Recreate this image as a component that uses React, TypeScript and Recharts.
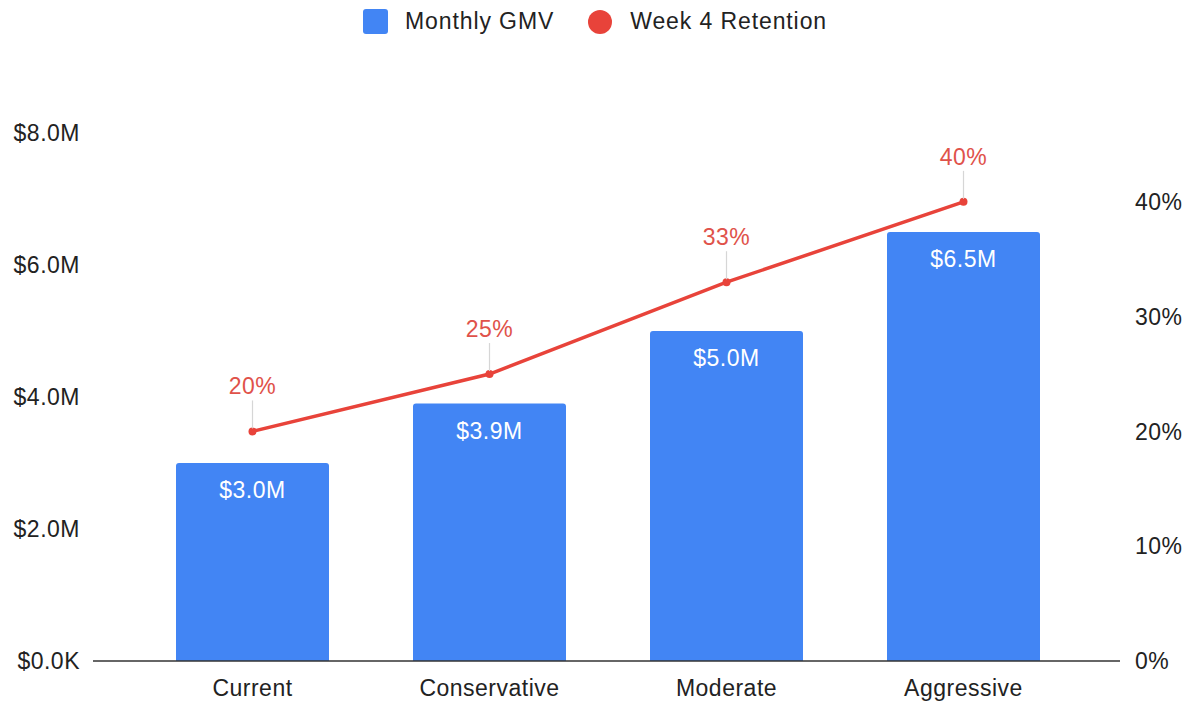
import React from "react";
import {
  ComposedChart,
  Bar,
  Line,
  XAxis,
  YAxis,
  LabelList
} from "recharts";

const categories = ["Current", "Conservative", "Moderate", "Aggressive"];
const monthlyGmv = [3000000, 3900000, 5000000, 6500000];
const week4Retention = [0.2, 0.25, 0.33, 0.4];
const gmvTicks = [0, 2000000, 4000000, 6000000, 8000000];
const retentionTicks = [0, 0.1, 0.2, 0.3, 0.4];

const BLUE = "#4285F4";
const RED = "#E8433A";
const LABEL_RED = "#E0524A";
const TEXT = "#222";

const data = categories.map((name, i) => ({
  name,
  gmv: monthlyGmv[i],
  retention: week4Retention[i]
}));

const money = (v: number) =>
  v === 0 ? "$0.0K" : `$${(v / 1000000).toFixed(1)}M`;
const pct = (v: number) => `${Math.round(v * 100)}%`;

const BarLabel = (props: any) => {
  const { x, y, width, value } = props;
  return (
    <text
      x={x + width / 2}
      y={y + 35}
      textAnchor="middle"
      fill="#fff"
      fontSize={23}
    >
      {money(value)}
    </text>
  );
};

const LineLabel = (props: any) => {
  const { x, y, value } = props;
  return (
    <g>
      <line x1={x} x2={x} y1={y - 31} y2={y - 3} stroke="#d6d6d6" strokeWidth={1.2} />
      <text x={x} y={y - 37} textAnchor="middle" fill={LABEL_RED} fontSize={23}>
        {pct(value)}
      </text>
    </g>
  );
};

function LegendBar() {
  return (
    <div
      style={{
        position: "absolute",
        top: 0,
        left: 0,
        width: 1186,
        height: 43,
        paddingLeft: 4,
        boxSizing: "border-box",
        display: "flex",
        justifyContent: "center",
        alignItems: "center",
        fontSize: 23,
        letterSpacing: 0.9,
        color: TEXT
      }}
    >
      <span style={{ width: 25, height: 25, background: BLUE, borderRadius: 3, marginRight: 17 }} />
      <span style={{ marginRight: 34 }}>Monthly GMV</span>
      <span style={{ width: 24, height: 24, background: RED, borderRadius: 12, marginRight: 18 }} />
      <span>Week 4 Retention</span>
    </div>
  );
}

export default function App() {
  return (
    <div
      style={{
        position: "absolute",
        left: 0,
        top: 0,
        width: 1186,
        height: 703,
        background: "#fff",
        fontFamily: "'Liberation Sans', Arial, sans-serif",
        letterSpacing: 0.5
      }}
    >
      <LegendBar />
      <ComposedChart
        width={1186}
        height={703}
        data={data}
        margin={{ top: 133, right: 6, bottom: 2, left: 13 }}
      >
        <XAxis
          dataKey="name"
          padding={{ left: 41, right: 38 }}
          height={40}
          tickSize={0}
          tickMargin={19}
          tickLine={false}
          axisLine={{ stroke: "#333", strokeWidth: 1.5 }}
          tick={{ fill: TEXT, fontSize: 23 }}
        />
        <YAxis
          yAxisId="gmv"
          width={80}
          domain={[0, 8000000]}
          ticks={gmvTicks}
          tickFormatter={money}
          axisLine={false}
          tickLine={false}
          tickSize={0}
          tickMargin={13}
          tick={{ fill: TEXT, fontSize: 23 }}
        />
        <YAxis
          yAxisId="ret"
          orientation="right"
          width={60}
          domain={[0, 0.46]}
          ticks={retentionTicks}
          tickFormatter={pct}
          axisLine={false}
          tickLine={false}
          tickSize={0}
          tickMargin={15}
          tick={{ fill: TEXT, fontSize: 23, textAnchor: "start" }}
        />
        <Bar
          yAxisId="gmv"
          dataKey="gmv"
          fill={BLUE}
          barSize={153}
          radius={[3, 3, 0, 0]}
          isAnimationActive={false}
        >
          <LabelList dataKey="gmv" content={BarLabel} />
        </Bar>
        <Line
          yAxisId="ret"
          dataKey="retention"
          stroke={RED}
          strokeWidth={3.5}
          dot={{ r: 4, fill: RED, stroke: RED, strokeWidth: 0 }}
          activeDot={false}
          isAnimationActive={false}
        >
          <LabelList dataKey="retention" content={LineLabel} />
        </Line>
      </ComposedChart>
    </div>
  );
}
